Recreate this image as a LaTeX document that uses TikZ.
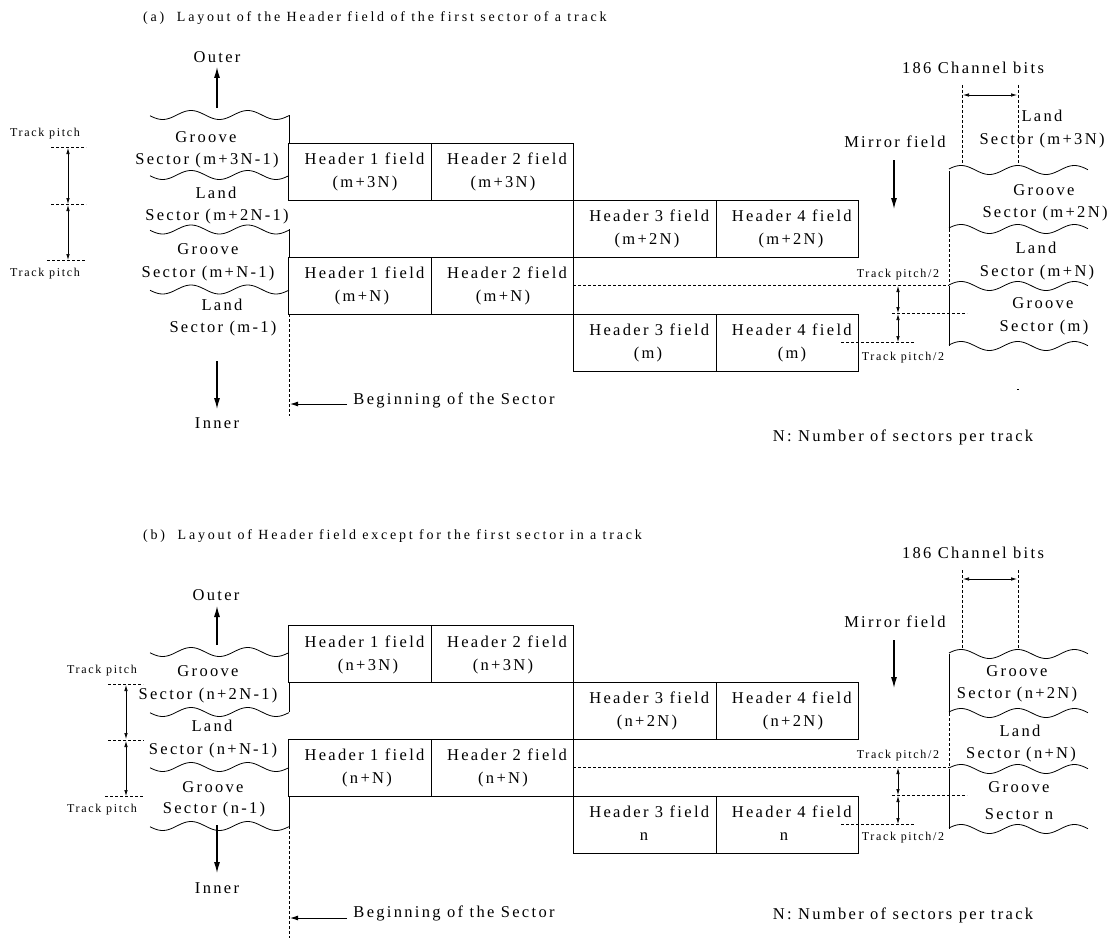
\documentclass[tikz,border=0pt]{standalone}
\usepackage{fontspec}
\setmainfont[LetterSpace=14]{Liberation Serif}
\newfontfamily\capfont[LetterSpace=20]{Liberation Serif}
\usetikzlibrary{arrows.meta}
\tikzset{>=latex}
\tikzset{
	lbl/.style={inner sep=0pt, font=\fontsize{16.5}{18}\selectfont},
	tiny lbl/.style={inner sep=0pt, font=\fontsize{12}{13}\selectfont},
	cap lbl/.style={inner sep=0pt, anchor=west, font=\capfont\fontsize{14}{16}\selectfont},
	fieldbox/.style={draw, line width=1pt, minimum width=142.5pt, minimum height=57pt, inner sep=0pt},
	big arrow/.style={line width=1.2pt, -{Latex[length=11pt, width=6pt]}},
	width arrow/.style={line width=.7pt, {Latex[length=6pt, width=3.5pt]}-{Latex[length=6pt, width=3.5pt]}},
	wall/.style={line width=1pt},
	guide/.style={line width=.7pt, dash pattern=on 3pt off 2pt}
}
\newcommand{\conn}[4]{
	\coordinate (#1a) at (#3);
	\coordinate (#1b) at (#4);
	\draw[#2] (#1a)--(#1b);
}
\newcommand{\wavy}[3]{
	\draw[line width=.8pt] plot[domain=0:139, samples=70, smooth] ({#1+\x}, {#2-4.5*cos((\x-#3)*6.35)});
}
\begin{document}
\begin{tikzpicture}[x=1pt, y=-1pt]
    \useasboundingbox (0, 0) rectangle (1117, 942);
    \node[cap lbl] (capa) at (143, 18) {(a)\ \ Layout of the Header field of the first sector of a track};
    \node[cap lbl] (capb) at (143, 536) {(b)\ \ Layout of Header field except for the first sector in a track};
    % header boxes
    \foreach \n/\x/\y/\hn/\sb/\sx in {
        boxaa/360/171.5/1/(m+3N)/365, boxab/502.5/171.5/2/(m+3N)/503, boxac/644.75/228.5/3/(m+2N)/647, boxad/787.25/228.5/4/(m+2N)/791,
        boxae/360/285.5/1/(m+N)/362, boxaf/502.5/285.5/2/(m+N)/503, boxag/644.75/342.5/3/(m)/648, boxah/787.25/342.5/4/(m)/792,
        boxba/360/654/1/(n+3N)/368, boxbb/502.5/654/2/(n+3N)/503, boxbc/644.75/710.5/3/(n+2N)/647, boxbd/787.25/710.5/4/(n+2N)/793,
        boxbe/360/767.5/1/(n+N)/367, boxbf/502.5/767.5/2/(n+N)/503, boxbg/644.75/824.5/3/n/644, boxbh/787.25/824.5/4/n/784}{
        \node[fieldbox] (\n) at (\x, \y) {};
        \node[lbl] (\n t) at (\x+4.5, \y-12.5) {Header \hn\ field};
        \node[lbl] (\n s) at (\sx, \y+12.5) {\sb};
    }
    % sector names
    \foreach \n/\x/\y/\t in {
        outa/217/57/Outer, groaa/206/137/Groove, secaa/207/161/Sector (m+3N-1), lanaa/216/193/Land, secab/217/217/Sector (m+2N-1),
        groab/208/249/Groove, secac/208/274/Sector (m+N-1), lanab/222/305/Land, secad/223/329/Sector (m-1), inna/217/423/Inner,
        lanac/1042/116/Land, secae/1042/141/Sector (m+3N), groac/1044/190/Groove, secaf/1045/214/Sector (m+2N), lanad/1036/248/Land,
        secag/1037/273/Sector (m+N), groad/1043/303/Groove, secah/1044/328/Sector (m),
        chana/973/68/186 Channel bits, mira/895/142/Mirror field, bega/454/400/Beginning of the Sector, numa/903/437/N: Number of sectors per track,
        outb/216/595/Outer, groba/208/671/Groove, secba/208/696/Sector (n+2N-1), lanba/212/726/Land, secbb/213/751/Sector (n+N-1),
        grobb/213/787/Groove, secbc/214/810/Sector (n-1), innb/217/888/Inner,
        grobc/1017/671/Groove, secbd/1017/695/Sector (n+2N), lanbb/1020/731/Land, secbe/1021/755/Sector (n+N), grobd/1019/787/Groove, secbf/1019/814/Sector n,
        chanb/973/553/186 Channel bits, mirb/895/622/Mirror field, begb/454/913/Beginning of the Sector, numb/903/915/N: Number of sectors per track}{
        \node[lbl] (\n) at (\x, \y) {\t};
    }
    % small pitch labels
    \node[tiny lbl] (pitchaa) at (45, 134) {Track pitch};
    \node[tiny lbl] (pitchab) at (45, 274) {Track pitch};
    \node[tiny lbl] (pitchba) at (102, 671) {Track pitch};
    \node[tiny lbl] (pitchbb) at (102, 810) {Track pitch};
    \node[tiny lbl] (halfaa) at (898, 275) {Track pitch/2};
    \node[tiny lbl] (halfab) at (903, 358) {Track pitch/2};
    \node[tiny lbl] (halfba) at (898, 756) {Track pitch/2};
    \node[tiny lbl] (halfbb) at (903, 838) {Track pitch/2};
    % waves
    \foreach \y in {115, 175, 229.5, 289.5, 652, 712, 767, 826}{\wavy{150}{\y}{41}}
    \foreach \y in {170, 229, 286, 346, 654, 713, 769, 829}{\wavy{949}{\y}{12}}
    % (a) lines
    \conn{wallaa}{wall}{289, 115}{289, 143}
    \conn{wallab}{wall}{289, 229}{289, 257}
    \conn{begina}{guide}{289, 314}{289, 416}
    \conn{wallac}{wall}{949, 171}{949, 229}
    \conn{guideaa}{guide}{949, 229}{949, 285}
    \conn{wallad}{wall}{949, 286}{949, 346}
    \conn{outaro}{big arrow}{217, 108}{217, 67}
    \conn{innaro}{big arrow}{217, 361}{217, 409}
    \conn{miraro}{big arrow}{894, 160}{894, 209}
    \conn{begaro}{line width=1pt, -{Latex[length=8pt, width=5pt]}}{347, 404}{290, 404}
    \conn{dashaa}{guide}{51, 147}{86, 147}
    \conn{dashab}{guide}{51, 204.5}{86, 204.5}
    \conn{dashac}{guide}{47, 260}{86, 260}
    \conn{pitcha}{width arrow}{68, 148}{68, 204}
    \conn{pitchb}{width arrow}{68, 205}{68, 260}
    \conn{chanal}{guide}{962, 85}{962, 165}
    \conn{chanar}{guide}{1018, 85}{1018, 165}
    \conn{chanaro}{width arrow}{963, 95}{1017, 95}
    \conn{dashad}{guide}{573, 285}{949, 285}
    \conn{dashae}{guide}{892, 313}{967, 313}
    \conn{dashaf}{guide}{841, 342}{915, 342}
    \conn{halfa}{width arrow}{898, 286}{898, 313}
    \conn{halfb}{width arrow}{898, 314}{898, 342}
    \conn{speck}{line width=.7pt}{1017, 389}{1019, 389}
    % (b) lines
    \conn{wallba}{wall}{289, 682}{289, 712}
    \conn{wallbb}{wall}{289, 796}{289, 826}
    \conn{beginb}{guide}{289, 826}{289, 938}
    \conn{wallbc}{wall}{949, 654}{949, 713}
    \conn{guideba}{guide}{949, 713}{949, 767}
    \conn{wallbd}{wall}{949, 769}{949, 829}
    \conn{outbro}{big arrow}{217, 645}{217, 606}
    \conn{innbro}{big arrow}{217, 825}{217, 873}
    \conn{mirbro}{big arrow}{894, 640}{894, 688}
    \conn{begbro}{line width=1pt, -{Latex[length=8pt, width=5pt]}}{347, 918}{290, 918}
    \conn{dashba}{guide}{108, 684}{143, 684}
    \conn{dashbb}{guide}{108, 740}{144, 740}
    \conn{dashbc}{guide}{105, 796}{144, 796}
    \conn{pitchc}{width arrow}{126, 685}{126, 739}
    \conn{pitchd}{width arrow}{126, 741}{126, 796}
    \conn{chanbl}{guide}{962, 570}{962, 649}
    \conn{chanbr}{guide}{1018, 570}{1018, 649}
    \conn{chanbro}{width arrow}{963, 579}{1017, 579}
    \conn{dashbd}{guide}{573, 767}{949, 767}
    \conn{dashbe}{guide}{892, 795}{967, 795}
    \conn{dashbf}{guide}{841, 824}{915, 824}
    \conn{halfc}{width arrow}{898, 768}{898, 795}
    \conn{halfd}{width arrow}{898, 796}{898, 824}
\end{tikzpicture}
\end{document}
